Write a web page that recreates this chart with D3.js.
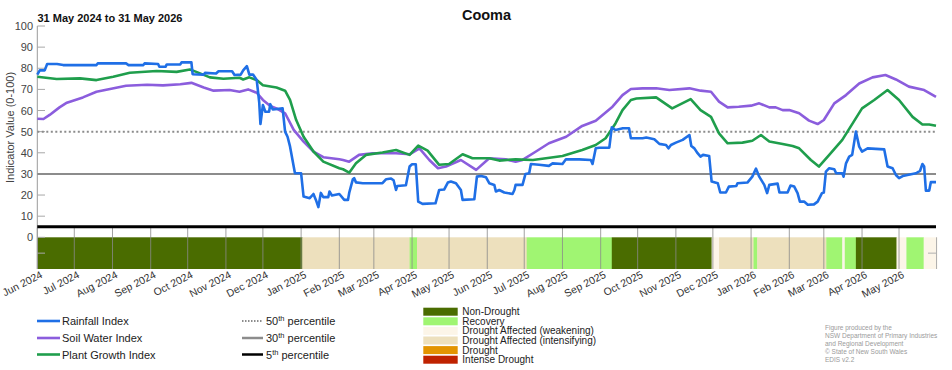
<!DOCTYPE html>
<html>
<head>
<meta charset="utf-8">
<script src="https://cdn.jsdelivr.net/npm/d3@7"></script>
<style>
  body { margin: 0; background: #fff; }
  text { font-family: "Liberation Sans", Arial, sans-serif; }
</style>
</head>
<body>
<div id="chart"></div>
<script>
var chart_width = 952;
var chart_height = 370;

// days counted from 1 Jun 2024
var rainDays = [0,2,6,8,16,21,48,49,72,74,86,87,98,99,104,105,116,117,125,126,135,136,145,147,158,160,165,167,170,172,175,178,180,181,183,185,188,189,191,199,201,203,205,209,214,216,221,224,226,228,230,232,236,237,239,245,
  249,252,253,256,257,258.5,264,280,283,287,289,291,292,299,302,304,307,309,312.5,323,326,330,333,335.5,339.6,343.6,345,354.5,356.6,360,364,366.6,370.7,372,374.7,378.8,385.5,387,388,393.6,396,399,400.4,407,415,418,426,428.8,439.6,449,450.4,453,455.8,464,466,469,475,480,481.5,
  491,494,500.5,504.6,510,512,514,518,523.5,529,530.5,533,535.6,538,540,545,547,552,554,558.6,561,567,568,576,580,583,585.6,589.7,592,593.8,600.5,602,608.6,611,614,616.7,618.6,622,625,630,633,636.5,638,639.7,642.4,646.5,648,653,654,656,658.6,661,664,666.7,669,673.5,687,689.7,693.8,696.5,699,702,712.7,716,718,719.4,720.8,723.5,724.8,729];
var rainValues = [77,79,79,82,82,81.5,81.5,82.3,82.3,81.5,81.5,82.3,82,80.7,80.7,81.8,81.8,82.8,82.8,77.2,77,77.8,77.5,78.6,78.6,76.8,77,79,81,77,77,74.4,64,53.6,62.6,59.4,59.4,63,60.5,61,50,47.6,43,30.3,30.3,19.3,18.5,20.5,17.7,14.3,21,19,19,21.7,19.8,20.5,
  17.7,17.7,21,27.5,28,26,25.6,25.6,27.5,27.8,27,22.4,24.3,24.6,33.5,34.6,34.6,16.9,15.8,16.1,22.4,22.6,25.9,26.4,25.6,22.4,17.7,18,28.7,29,28.4,25.6,24.8,21.7,22.4,21.2,20.5,22.4,24.8,24.8,30,30.3,34.7,34.3,33.8,35,34.7,36.9,36.9,36.6,34.7,42.1,42.4,42.4,52,50.8,51.6,51.6,46.9,
  46.9,47.2,46.4,44.2,43.7,42.1,43.7,44.8,46.1,48.4,43.2,42.1,39.8,38.2,39,38.5,26.4,25.6,21.2,21.2,24,24.3,25.6,25.9,28.7,32.5,28.7,24.8,20.9,24.8,25.4,21.2,21.2,24.5,24,20.9,16.9,16.9,15.4,15.6,16.9,20.9,21.2,31.1,32.7,32.2,30.3,30.3,28.7,35,38.2,39,50,42.9,40.6,42.1,41.6,33.5,32.7,29.5,28,29,30.3,31.4,34.7,33.5,22.1,22.1,26.1,26.1];

var soilDays = [0,5,10,18,24,37,48,64,72,89,102,116,125,135,143,156,164,171,178,183,189,194,201,208,216,224,232,245,
  248,253,261,272,291,302,310,318,325,331.5,343.6,356,366.6,380,388,393.6,404.5,415,429,442,453,466.6,474.7,481.5,
  491,502,512.7,529,538,546.5,553,560,569,579,585.6,593.8,599,604.6,610,618,626,633,638,646.5,656,666.7,677.5,688,696.5,707,719.4,729];
var soilValues = [56.1,56,57.9,61.5,63.7,66.2,68.9,70.8,71.7,72.2,71.9,72.4,73.1,70.9,69.4,69.7,68.9,70,68.4,65,62.1,61,58.7,50.8,45.3,40.6,37.9,36.9,
  36.6,35.8,39,39.8,39.8,39.3,42.1,36.6,32.7,33.5,36.6,31.9,37.4,36.9,35.8,36.6,40.6,44.5,47.6,52.7,55.2,61.8,67.3,70.2,
  70.5,70.5,69.7,70.5,69.4,68.9,64.2,61.5,61.8,62.3,63.4,61.5,61.5,60.2,60.2,58.7,55.2,53.6,55.5,63.4,67.3,72.8,75.7,76.8,74.7,71.3,69.7,66.5];

var plantDays = [0,15.7,34.6,48,61.6,75,96.8,113,123.8,129,140,151,164,167,172,178,183,194,201,205,210,216,224,232,245,
  248,253,258.5,266.6,280,291,302,309,316.6,326,334,345,353,366.6,374.7,388,402,412.6,426,442,453,461,469,474.7,481.5,
  486,502,515,530,538,546.5,553,560,572,580,587,593.8,604.6,612.7,618,627.5,634,642.4,653,669,678.9,689.7,699,710,718,723.5,729];
var plantValues = [76,74.9,75.2,74.4,76,77.9,78.7,78.3,79.4,78.3,75.7,75,75.5,74.7,75.7,74.4,72,70.9,69.4,65,55.5,47.6,40.6,35.8,32.7,
  32.2,30.6,35,39,40.1,41.3,39,43.4,41,34.3,34.7,39.3,37.4,37.4,36.3,36.9,36.6,37.4,38.5,41.3,43.7,46.9,53.9,60.2,65,
  65.7,66.2,61,65.4,60.2,57,49.2,44.5,44.8,45.7,48.4,45.3,44.2,43.2,42.1,36.6,33.5,39,46.1,61,65,69.7,65,57,53.4,53.4,52.8];

// drought status periods (start day, category), last period runs to day 730
var stripStarts = [0,215,302,308,397,466,547,553,581,584,640,653,655,664,697,705,719];
var stripStatus = ['Non-Drought','Drought Affected (intensifying)','Recovery','Drought Affected (intensifying)','Recovery','Non-Drought',
  'Drought Affected (weakening)','Drought Affected (intensifying)','Recovery','Drought Affected (intensifying)','Recovery',
  'Drought Affected (weakening)','Recovery','Non-Drought','Drought Affected (weakening)','Recovery','Drought Affected (weakening)'];

var statusNames = ['Non-Drought','Recovery','Drought Affected (weakening)','Drought Affected (intensifying)','Drought','Intense Drought'];
var statusColors = ['#4a6c00','#a0f572','#fcf5e8','#ede0bd','#e39400','#bf2200'];

var seriesNames = ['Rainfall Index','Soil Water Index','Plant Growth Index'];
var seriesColors = ['#1f6fe6','#8b5ddd','#1f9e4c'];

var yTicks = [0,10,20,30,40,50,60,70,80,90,100];
var footerLines = ['Figure produced by the','NSW Department of Primary Industries','and Regional Development','\u00a9 State of New South Wales','EDIS v2.2'];

var start = new Date(Date.UTC(2024, 5, 1));
var end = new Date(Date.UTC(2026, 4, 31));
var dayDate = (d) => new Date(start.getTime() + d * 86400000);

var svg = d3.select('#chart')
            .append('svg')
            .attr('width', chart_width)
            .attr('height', chart_height);

var x_scale = d3.scaleUtc()
                .domain([start, end])
                .range([37.3, 936]);

var y_scale = d3.scaleLinear()
                .domain([-15, 100])
                .range([269, 26]);

var colorOf = d3.scaleOrdinal().domain(statusNames).range(statusColors);

// titles
svg.append('text').attr('x', 486.5).attr('y', 20).attr('text-anchor', 'middle')
   .attr('font-size', 14.5).attr('font-weight', 'bold').attr('fill', '#111').text('Cooma');
svg.append('text').attr('x', 37.5).attr('y', 22).attr('font-size', 11).attr('font-weight', 'bold')
   .attr('fill', '#111').text('31 May 2024 to 31 May 2026');

// drought strip
svg.selectAll('rect.strip')
    .data(stripStarts)
    .enter()
    .append('rect')
    .attr('class', 'strip')
    .attr('x', (d) => x_scale(dayDate(d)))
    .attr('width', (d, i) => {
        var next = i + 1 < stripStarts.length ? stripStarts[i + 1] : 730;
        return x_scale(dayDate(next)) - x_scale(dayDate(d)) + 0.3;
    })
    .attr('y', y_scale(0))
    .attr('height', y_scale(-15) - y_scale(0))
    .attr('fill', (d, i) => colorOf(stripStatus[i]));

// month gridlines in lower panel
var months = d3.utcMonth.range(start, end);
svg.selectAll('line.month')
    .data(months)
    .enter()
    .append('line')
    .attr('x1', (d) => x_scale(d)).attr('x2', (d) => x_scale(d))
    .attr('y1', y_scale(4.5)).attr('y2', y_scale(-15))
    .attr('stroke', '#8a8a8a').attr('stroke-opacity', 0.8).attr('stroke-width', 1);

// axis lines
svg.append('line').attr('x1', 37.3).attr('x2', 37.3).attr('y1', y_scale(100)).attr('y2', y_scale(-15))
   .attr('stroke', '#9a9a9a').attr('stroke-width', 1);
svg.append('line').attr('x1', 936.5).attr('x2', 936.5).attr('y1', y_scale(0)).attr('y2', y_scale(-15))
   .attr('stroke', '#b0b0b0').attr('stroke-width', 1);
svg.append('line').attr('x1', 928).attr('x2', 936.5).attr('y1', y_scale(-7.5)).attr('y2', y_scale(-7.5))
   .attr('stroke', '#b0b0b0').attr('stroke-width', 1);

// y ticks
svg.selectAll('line.ytick')
    .data(yTicks.concat([-7.5]))
    .enter()
    .append('line')
    .attr('x1', 37.3).attr('x2', 45)
    .attr('y1', (d) => y_scale(d)).attr('y2', (d) => y_scale(d))
    .attr('stroke', '#a8a8a8').attr('stroke-width', 1);
svg.selectAll('text.ylab')
    .data(yTicks)
    .enter()
    .append('text')
    .attr('x', 33).attr('y', (d) => y_scale(d) + 4)
    .attr('text-anchor', 'end').attr('font-size', 11).attr('fill', '#444')
    .text((d) => d);
svg.append('text')
   .attr('transform', 'translate(14,' + y_scale(52) + ') rotate(-90)')
   .attr('text-anchor', 'middle').attr('font-size', 11).attr('fill', '#444')
   .text('Indicator Value (0-100)');

// x labels
svg.selectAll('text.xlab')
    .data(months)
    .enter()
    .append('text')
    .attr('transform', (d) => 'translate(' + (x_scale(d) + 6) + ',' + 277 + ') rotate(-27)')
    .attr('text-anchor', 'end').attr('font-size', 10.5).attr('fill', '#333')
    .text((d) => d3.utcFormat('%b %Y')(d));

// percentile lines
svg.append('line').attr('x1', 37.3).attr('x2', 936).attr('y1', y_scale(50)).attr('y2', y_scale(50))
   .attr('stroke', '#8c8c8c').attr('stroke-width', 2).attr('stroke-dasharray', '2,2.5');
svg.append('line').attr('x1', 37.3).attr('x2', 936).attr('y1', y_scale(30)).attr('y2', y_scale(30))
   .attr('stroke', '#8c8c8c').attr('stroke-width', 2);
svg.append('line').attr('x1', 37.3).attr('x2', 936).attr('y1', y_scale(5)).attr('y2', y_scale(5))
   .attr('stroke', '#000').attr('stroke-width', 3);

// series lines
var line = d3.line()
             .x((d) => x_scale(dayDate(d[0])))
             .y((d) => y_scale(d[1]));

var series = [
    d3.zip(soilDays, soilValues),
    d3.zip(plantDays, plantValues),
    d3.zip(rainDays, rainValues)
];
var seriesColorOrder = [seriesColors[1], seriesColors[2], seriesColors[0]];

svg.selectAll('path.series')
    .data(series)
    .enter()
    .append('path')
    .attr('d', line)
    .attr('fill', 'none')
    .attr('stroke', (d, i) => seriesColorOrder[i])
    .attr('stroke-width', 2.6)
    .attr('stroke-linejoin', 'round');

// legend: series
var legRows = [321, 338, 354.5];
seriesNames.forEach((name, i) => {
    svg.append('line').attr('x1', 37).attr('x2', 60).attr('y1', legRows[i]).attr('y2', legRows[i])
       .attr('stroke', seriesColors[i]).attr('stroke-width', 2.6);
    svg.append('text').attr('x', 62).attr('y', legRows[i] + 4).attr('font-size', 11).attr('fill', '#222').text(name);
});

// legend: percentiles
var pctLabels = ['50', '30', '5'];
var pctStyles = [
    { stroke: '#8c8c8c', width: 2, dash: '1.5,1.5' },
    { stroke: '#8c8c8c', width: 2.5, dash: null },
    { stroke: '#000', width: 2.5, dash: null }
];
pctLabels.forEach((p, i) => {
    svg.append('line').attr('x1', 242).attr('x2', 263).attr('y1', legRows[i]).attr('y2', legRows[i])
       .attr('stroke', pctStyles[i].stroke).attr('stroke-width', pctStyles[i].width)
       .attr('stroke-dasharray', pctStyles[i].dash);
    var t = svg.append('text').attr('x', 266).attr('y', legRows[i] + 4).attr('font-size', 11).attr('fill', '#222');
    t.append('tspan').text(p);
    t.append('tspan').attr('dy', -4).attr('font-size', 7.5).text('th');
    t.append('tspan').attr('dy', 4).text(' percentile');
});

// legend: drought status
statusNames.forEach((name, i) => {
    var yy = 311.7 + i * 9.6;
    svg.append('rect').attr('x', 423.3).attr('y', yy - 4).attr('width', 34.4).attr('height', 8)
       .attr('fill', statusColors[i]);
    svg.append('text').attr('x', 462.3).attr('y', yy + 3.5).attr('font-size', 10).attr('fill', '#222').text(name);
});

// footer
svg.selectAll('text.footer')
    .data(footerLines)
    .enter()
    .append('text')
    .attr('x', 825).attr('y', (d, i) => 329.5 + i * 8.2)
    .attr('font-size', 6.5).attr('fill', '#9a9a9a')
    .text((d) => d);
</script>
</body>
</html>
